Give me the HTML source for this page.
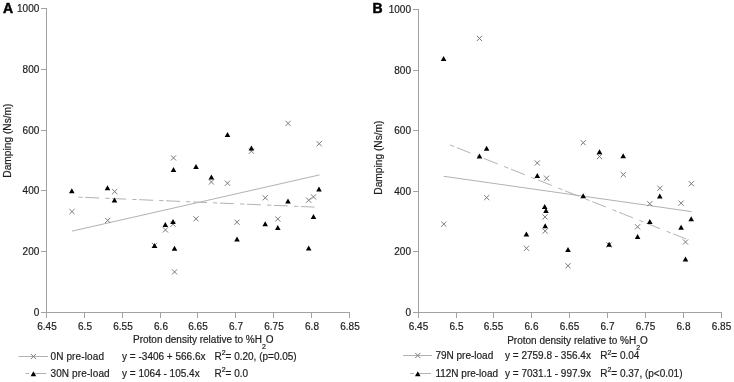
<!DOCTYPE html><html><head><meta charset="utf-8"><style>html,body{margin:0;padding:0;background:#fff;width:734px;height:382px;overflow:hidden}svg{display:block;will-change:transform}text{font-family:"Liberation Sans",sans-serif;fill:#1e1e1e;stroke:#1e1e1e;stroke-width:0.2px}</style></head><body>
<svg width="734" height="382" viewBox="0 0 734 382">
<g stroke="#a2a2a2" stroke-width="1" fill="none" shape-rendering="crispEdges">
<path d="M46.5 8 V317.5"/>
<path d="M46 312.5 H350"/>
<path d="M41 312.5 H46"/>
<path d="M41 251.5 H46"/>
<path d="M41 190.5 H46"/>
<path d="M41 130.5 H46"/>
<path d="M41 69.5 H46"/>
<path d="M41 8.5 H46"/>
<path d="M46.5 313 V318"/>
<path d="M84.5 313 V318"/>
<path d="M122.5 313 V318"/>
<path d="M160.5 313 V318"/>
<path d="M197.5 313 V318"/>
<path d="M235.5 313 V318"/>
<path d="M273.5 313 V318"/>
<path d="M311.5 313 V318"/>
<path d="M349.5 313 V318"/>
</g>
<text x="39.3" y="315.6" font-size="10" text-anchor="end">0</text>
<text x="39.3" y="254.6" font-size="10" text-anchor="end">200</text>
<text x="39.3" y="193.6" font-size="10" text-anchor="end">400</text>
<text x="39.3" y="133.6" font-size="10" text-anchor="end">600</text>
<text x="39.3" y="72.6" font-size="10" text-anchor="end">800</text>
<text x="39.3" y="11.6" font-size="10" text-anchor="end">1000</text>
<text x="47.0" y="329.6" font-size="10" text-anchor="middle">6.45</text>
<text x="85.0" y="329.6" font-size="10" text-anchor="middle">6.5</text>
<text x="123.0" y="329.6" font-size="10" text-anchor="middle">6.55</text>
<text x="161.0" y="329.6" font-size="10" text-anchor="middle">6.6</text>
<text x="198.0" y="329.6" font-size="10" text-anchor="middle">6.65</text>
<text x="236.0" y="329.6" font-size="10" text-anchor="middle">6.7</text>
<text x="274.0" y="329.6" font-size="10" text-anchor="middle">6.75</text>
<text x="312.0" y="329.6" font-size="10" text-anchor="middle">6.8</text>
<text x="350.0" y="329.6" font-size="10" text-anchor="middle">6.85</text>
<text x="3" y="13" font-size="14" font-weight="bold" style="fill:#000;stroke:#000;stroke-width:0.5px">A</text>
<text transform="translate(11.4,140.6) rotate(-90)" font-size="10.2" text-anchor="middle">Damping (Ns/m)</text>
<text x="133" y="343" font-size="10">Proton density relative to %H<tspan font-size="7" dy="5.5">2</tspan><tspan dy="-5.5">O</tspan></text>
<g stroke="#a2a2a2" stroke-width="1" fill="none" shape-rendering="crispEdges">
<path d="M418.5 9 V317.5"/>
<path d="M418 312.5 H722"/>
<path d="M413 312.5 H418"/>
<path d="M413 251.5 H418"/>
<path d="M413 191.5 H418"/>
<path d="M413 130.5 H418"/>
<path d="M413 70.5 H418"/>
<path d="M413 9.5 H418"/>
<path d="M418.5 313 V318"/>
<path d="M456.5 313 V318"/>
<path d="M493.5 313 V318"/>
<path d="M531.5 313 V318"/>
<path d="M569.5 313 V318"/>
<path d="M607.5 313 V318"/>
<path d="M645.5 313 V318"/>
<path d="M683.5 313 V318"/>
<path d="M721.5 313 V318"/>
</g>
<text x="411" y="315.6" font-size="10" text-anchor="end">0</text>
<text x="411" y="254.6" font-size="10" text-anchor="end">200</text>
<text x="411" y="194.6" font-size="10" text-anchor="end">400</text>
<text x="411" y="133.6" font-size="10" text-anchor="end">600</text>
<text x="411" y="73.6" font-size="10" text-anchor="end">800</text>
<text x="411" y="12.6" font-size="10" text-anchor="end">1000</text>
<text x="418.5" y="329.6" font-size="10" text-anchor="middle">6.45</text>
<text x="456.5" y="329.6" font-size="10" text-anchor="middle">6.5</text>
<text x="493.5" y="329.6" font-size="10" text-anchor="middle">6.55</text>
<text x="531.5" y="329.6" font-size="10" text-anchor="middle">6.6</text>
<text x="569.5" y="329.6" font-size="10" text-anchor="middle">6.65</text>
<text x="607.5" y="329.6" font-size="10" text-anchor="middle">6.7</text>
<text x="645.5" y="329.6" font-size="10" text-anchor="middle">6.75</text>
<text x="683.5" y="329.6" font-size="10" text-anchor="middle">6.8</text>
<text x="721.5" y="329.6" font-size="10" text-anchor="middle">6.85</text>
<text x="372.6" y="13" font-size="14" font-weight="bold" style="fill:#000;stroke:#000;stroke-width:0.5px">B</text>
<text transform="translate(381.6,157.6) rotate(-90)" font-size="10.2" text-anchor="middle">Damping (Ns/m)</text>
<text x="507.2" y="344" font-size="10">Proton density relative to %H<tspan font-size="7" dy="5.5">2</tspan><tspan dy="-5.5">O</tspan></text>
<g fill="none" stroke="#b2b2b2" stroke-width="1">
<path d="M72.00 231.14L319.60 174.88"/>
<path d="M72.20 196.84L314.50 207.08" stroke-dasharray="13.95 6.12 4.3 2.6" stroke-dashoffset="13.9"/>
<path d="M443.60 176.29L691.70 211.61"/>
<path d="M443.60 142.35L686.00 238.98" stroke-dasharray="14.75 6.97 4.5 2.9" stroke-dashoffset="14.75"/>
</g>
<path fill="none" stroke="#7a7a7a" stroke-width="1" d="M69.40 209.00L74.60 214.20M69.40 214.20L74.60 209.00M105.10 217.80L110.30 223.00M105.10 223.00L110.30 217.80M112.10 189.00L117.30 194.20M112.10 194.20L117.30 189.00M170.90 155.30L176.10 160.50M170.90 160.50L176.10 155.30M285.50 120.80L290.70 126.00M285.50 126.00L290.70 120.80M316.60 141.10L321.80 146.30M316.60 146.30L321.80 141.10M248.80 148.60L254.00 153.80M248.80 153.80L254.00 148.60M208.80 179.40L214.00 184.60M208.80 184.60L214.00 179.40M224.90 180.60L230.10 185.80M224.90 185.80L230.10 180.60M262.70 195.20L267.90 200.40M262.70 200.40L267.90 195.20M306.10 197.60L311.30 202.80M306.10 202.80L311.30 197.60M310.90 194.30L316.10 199.50M310.90 199.50L316.10 194.30M162.80 227.30L168.00 232.50M162.80 232.50L168.00 227.30M170.40 221.60L175.60 226.80M170.40 226.80L175.60 221.60M193.40 216.20L198.60 221.40M193.40 221.40L198.60 216.20M234.40 219.60L239.60 224.80M234.40 224.80L239.60 219.60M275.20 216.40L280.40 221.60M275.20 221.60L280.40 216.40M172.00 269.30L177.20 274.50M172.00 274.50L177.20 269.30M151.90 242.80L157.10 248.00M151.90 248.00L157.10 242.80"/>
<path fill="#000" d="M71.80 188.20L74.60 193.20L69.00 193.20ZM107.50 185.30L110.30 190.30L104.70 190.30ZM114.50 197.60L117.30 202.60L111.70 202.60ZM227.50 132.10L230.30 137.10L224.70 137.10ZM251.40 145.60L254.20 150.60L248.60 150.60ZM173.50 167.10L176.30 172.10L170.70 172.10ZM196.00 164.10L198.80 169.10L193.20 169.10ZM211.40 174.60L214.20 179.60L208.60 179.60ZM319.00 186.40L321.80 191.40L316.20 191.40ZM165.30 222.10L168.10 227.10L162.50 227.10ZM173.00 219.10L175.80 224.10L170.20 224.10ZM154.50 243.10L157.30 248.10L151.70 248.10ZM174.50 245.70L177.30 250.70L171.70 250.70ZM237.00 236.50L239.80 241.50L234.20 241.50ZM265.20 221.30L268.00 226.30L262.40 226.30ZM277.80 225.10L280.60 230.10L275.00 230.10ZM288.00 198.40L290.80 203.40L285.20 203.40ZM313.50 213.90L316.30 218.90L310.70 218.90ZM308.70 245.60L311.50 250.60L305.90 250.60Z"/>
<path fill="none" stroke="#7a7a7a" stroke-width="1" d="M476.80 35.80L482.00 41.00M476.80 41.00L482.00 35.80M580.60 140.10L585.80 145.30M580.60 145.30L585.80 140.10M596.90 154.00L602.10 159.20M596.90 159.20L602.10 154.00M534.70 160.40L539.90 165.60M534.70 165.60L539.90 160.40M544.00 175.60L549.20 180.80M544.00 180.80L549.20 175.60M484.10 195.00L489.30 200.20M484.10 200.20L489.30 195.00M441.20 221.50L446.40 226.70M441.20 226.70L446.40 221.50M620.70 172.00L625.90 177.20M620.70 177.20L625.90 172.00M657.30 185.70L662.50 190.90M657.30 190.90L662.50 185.70M688.70 181.10L693.90 186.30M688.70 186.30L693.90 181.10M647.20 201.10L652.40 206.30M647.20 206.30L652.40 201.10M678.50 200.60L683.70 205.80M678.50 205.80L683.70 200.60M542.40 214.30L547.60 219.50M542.40 219.50L547.60 214.30M542.60 228.40L547.80 233.60M542.60 233.60L547.80 228.40M523.90 245.70L529.10 250.90M523.90 250.90L529.10 245.70M565.40 263.20L570.60 268.40M565.40 268.40L570.60 263.20M635.00 224.20L640.20 229.40M635.00 229.40L640.20 224.20M682.90 239.40L688.10 244.60M682.90 244.60L688.10 239.40M606.40 242.40L611.60 247.60M606.40 247.60L611.60 242.40"/>
<path fill="#000" d="M443.60 56.00L446.40 61.00L440.80 61.00ZM486.60 145.80L489.40 150.80L483.80 150.80ZM479.50 153.60L482.30 158.60L476.70 158.60ZM537.30 172.90L540.10 177.90L534.50 177.90ZM599.50 149.30L602.30 154.30L596.70 154.30ZM623.20 153.20L626.00 158.20L620.40 158.20ZM583.20 193.30L586.00 198.30L580.40 198.30ZM544.70 203.90L547.50 208.90L541.90 208.90ZM546.00 208.10L548.80 213.10L543.20 213.10ZM545.20 223.20L548.00 228.20L542.40 228.20ZM526.40 231.50L529.20 236.50L523.60 236.50ZM568.00 247.00L570.80 252.00L565.20 252.00ZM609.10 241.80L611.90 246.80L606.30 246.80ZM637.60 234.00L640.40 239.00L634.80 239.00ZM649.80 218.90L652.60 223.90L647.00 223.90ZM659.80 193.50L662.60 198.50L657.00 198.50ZM681.10 224.80L683.90 229.80L678.30 229.80ZM691.20 216.30L694.00 221.30L688.40 221.30ZM685.50 256.60L688.30 261.60L682.70 261.60Z"/>
<path fill="none" stroke="#b2b2b2" stroke-width="1" d="M18.5 356.5H48"/>
<path fill="none" stroke="#b2b2b2" stroke-width="1" d="M25.5 373.5H29.0M32.5 373.5H46.5"/>
<path fill="none" stroke="#7a7a7a" stroke-width="1" d="M30.80 353.90L36.00 359.10M30.80 359.10L36.00 353.90"/>
<path fill="#000" d="M33.40 371.30L36.20 376.30L30.60 376.30Z"/>
<text x="50.5" y="359.8" font-size="10" letter-spacing="0.12">0N pre-load</text>
<text x="50.5" y="377" font-size="10" letter-spacing="0.12">30N pre-load</text>
<text x="122.1" y="359.8" font-size="10">y = -3406 + 566.6x</text>
<text x="122.1" y="377" font-size="10">y = 1064 - 105.4x</text>
<text x="214.4" y="359.8" font-size="10">R<tspan font-size="7" dy="-4.6">2</tspan><tspan dy="4.6">= 0.20, (p=0.05)</tspan></text>
<text x="214.4" y="377" font-size="10">R<tspan font-size="7" dy="-4.6">2</tspan><tspan dy="4.6">= 0.0</tspan></text>
<path fill="none" stroke="#b2b2b2" stroke-width="1" d="M403.2 355.5H432"/>
<path fill="none" stroke="#b2b2b2" stroke-width="1" d="M410.3 373.5H413.8M417.3 373.5H431"/>
<path fill="none" stroke="#7a7a7a" stroke-width="1" d="M415.20 352.90L420.40 358.10M415.20 358.10L420.40 352.90"/>
<path fill="#000" d="M417.80 371.30L420.60 376.30L415.00 376.30Z"/>
<text x="435.4" y="359.2" font-size="10" letter-spacing="0">79N pre-load</text>
<text x="435.4" y="377" font-size="10" letter-spacing="0">112N pre-load</text>
<text x="505" y="359.2" font-size="10">y = 2759.8 - 356.4x</text>
<text x="505" y="377" font-size="10">y = 7031.1 - 997.9x</text>
<text x="600.2" y="359.2" font-size="10">R<tspan font-size="7" dy="-4.6">2</tspan><tspan dy="4.6">= 0.04</tspan></text>
<text x="600.2" y="377" font-size="10">R<tspan font-size="7" dy="-4.6">2</tspan><tspan dy="4.6">= 0.37, (p&lt;0.01)</tspan></text>
</svg></body></html>
